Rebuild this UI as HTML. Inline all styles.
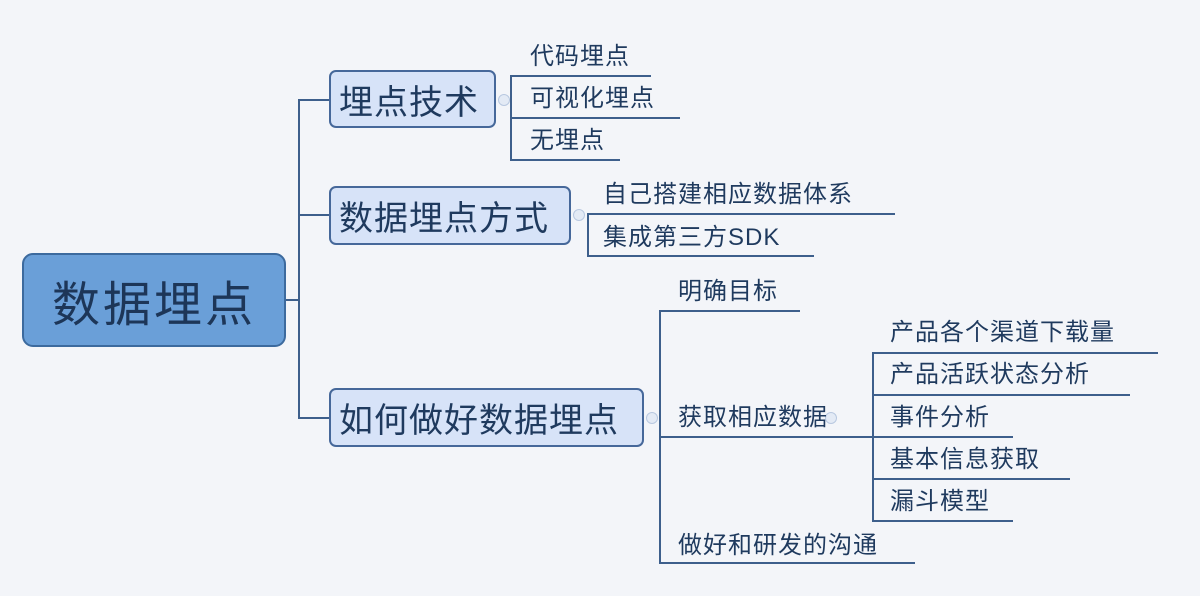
<!DOCTYPE html>
<html><head><meta charset="utf-8"><style>
body{margin:0;width:1200px;height:596px;background:#f3f5f9;position:relative;overflow:hidden;font-family:"Liberation Sans","Noto Sans CJK SC",sans-serif;color:#1f3a5e}
.a{position:absolute}
.h{position:absolute;height:2px;background:#3d5f8c}
.v{position:absolute;width:2px;background:#3d5f8c}
.t{position:absolute;font-size:24px;line-height:28px;white-space:nowrap;letter-spacing:1px}
.b{position:absolute;background:#d7e3f8;border:2px solid #46689a;border-radius:7px;box-sizing:border-box;font-size:34px;display:flex;align-items:center;padding-left:8px;white-space:nowrap;letter-spacing:1px}
.c{position:absolute;width:10px;height:10px;border-radius:50%;border:1px solid #b8c8e0;background:#e3eaf5}
</style></head><body>
<div class="a" style="left:22px;top:253px;width:264px;height:94px;background:#6a9fd8;border:2px solid #3c6a9e;border-radius:11px;box-sizing:border-box;font-size:48px;display:flex;align-items:center;justify-content:center;letter-spacing:3px;color:#1d3658">数据埋点</div>
<div class="h" style="left:286px;top:299px;width:14px"></div>
<div class="v" style="left:298px;top:99px;height:320px"></div>
<div class="h" style="left:298px;top:99px;width:31px"></div>
<div class="h" style="left:298px;top:214px;width:31px"></div>
<div class="h" style="left:298px;top:417px;width:31px"></div>
<div class="b" style="left:329px;top:70px;width:167px;height:58px">埋点技术</div>
<div class="b" style="left:329px;top:186px;width:242px;height:59px">数据埋点方式</div>
<div class="b" style="left:329px;top:388px;width:315px;height:59px">如何做好数据埋点</div>
<div class="c" style="left:498px;top:94px"></div>
<div class="c" style="left:573px;top:209px"></div>
<div class="c" style="left:646px;top:412px"></div>
<div class="c" style="left:825px;top:412px"></div>
<!-- group1 -->
<div class="v" style="left:510px;top:75px;height:86px"></div>
<div class="h" style="left:510px;top:75px;width:141px"></div>
<div class="h" style="left:510px;top:117px;width:170px"></div>
<div class="h" style="left:510px;top:159px;width:110px"></div>
<div class="t" style="left:530px;top:43px">代码埋点</div>
<div class="t" style="left:530px;top:85px">可视化埋点</div>
<div class="t" style="left:530px;top:127px">无埋点</div>
<!-- group2 -->
<div class="v" style="left:587px;top:213px;height:44px"></div>
<div class="h" style="left:587px;top:213px;width:308px"></div>
<div class="h" style="left:587px;top:255px;width:227px"></div>
<div class="t" style="left:603px;top:181px">自己搭建相应数据体系</div>
<div class="t" style="left:603px;top:224px">集成第三方SDK</div>
<!-- group3 -->
<div class="v" style="left:659px;top:310px;height:254px"></div>
<div class="h" style="left:659px;top:310px;width:141px"></div>
<div class="h" style="left:659px;top:436px;width:216px"></div>
<div class="h" style="left:659px;top:562px;width:256px"></div>
<div class="t" style="left:678px;top:278px">明确目标</div>
<div class="t" style="left:678px;top:404px">获取相应数据</div>
<div class="t" style="left:678px;top:532px">做好和研发的沟通</div>
<div class="v" style="left:872px;top:352px;height:170px"></div>
<div class="h" style="left:872px;top:352px;width:286px"></div>
<div class="h" style="left:872px;top:394px;width:258px"></div>
<div class="h" style="left:872px;top:436px;width:141px"></div>
<div class="h" style="left:872px;top:478px;width:198px"></div>
<div class="h" style="left:872px;top:520px;width:141px"></div>
<div class="t" style="left:890px;top:319px">产品各个渠道下载量</div>
<div class="t" style="left:890px;top:361px">产品活跃状态分析</div>
<div class="t" style="left:890px;top:404px">事件分析</div>
<div class="t" style="left:890px;top:446px">基本信息获取</div>
<div class="t" style="left:890px;top:488px">漏斗模型</div>
</body></html>
